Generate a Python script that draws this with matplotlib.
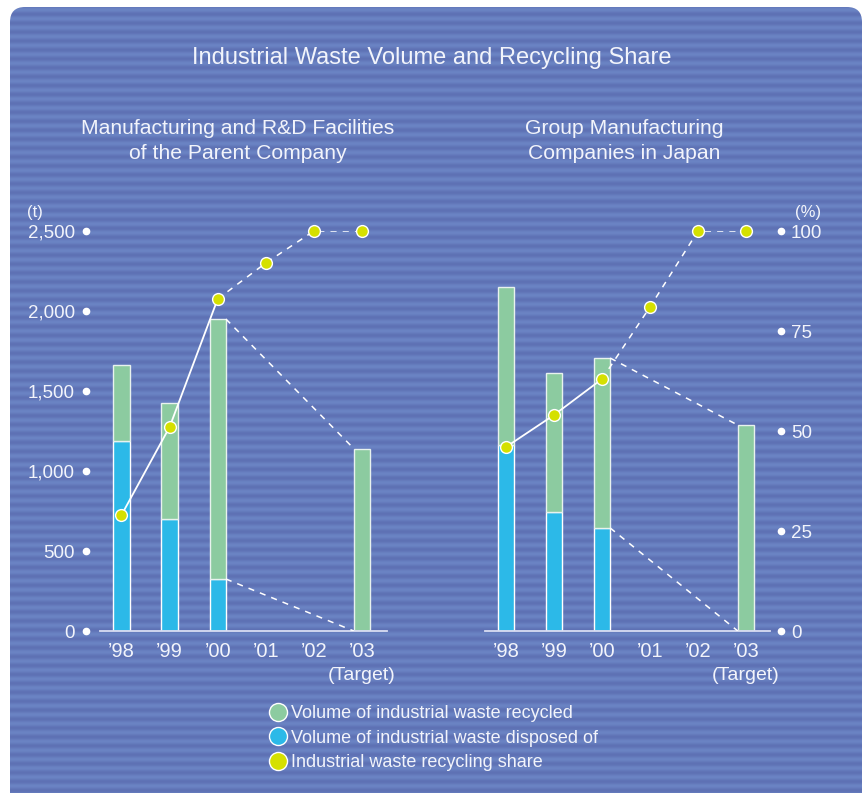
import matplotlib
matplotlib.use("Agg")
import matplotlib.pyplot as plt
import numpy as np
from matplotlib.patches import FancyBboxPatch
from matplotlib.lines import Line2D

plt.rcParams["font.family"] = ["Liberation Sans", "DejaVu Sans"]

years = ["\u201998", "\u201999", "\u201900", "\u201901", "\u201902", "\u201903"]

# parent company facilities (t, %)
parent_recycled = [475, 725, 1625, None, None, 1140]
parent_disposed = [1190, 700, 325, None, None, 0]
parent_share = [29, 51, 83, 92, 100, 100]

# group manufacturing companies in Japan (t, %)
group_recycled = [988, 868, 1062, None, None, 1287]
group_disposed = [1162, 744, 644, None, None, 0]
group_share = [46, 54, 63, 81, 100, 100]

vol_ticks = [0, 500, 1000, 1500, 2000, 2500]
pct_ticks = [0, 25, 50, 75, 100]

GREEN = "#8ccba0"
BLUE = "#2cb9e8"
YELLOW = "#d5e000"
TXT = "#f2f4fb"
W, H = 863, 793

fig = plt.figure(figsize=(W / 100, H / 100), dpi=100)

# striped rounded backdrop, drawn in pixel coordinates
bg = fig.add_axes([0, 0, 1, 1])
bg.set_xlim(0, W)
bg.set_ylim(H, 0)
bg.axis("off")
rows = np.arange(H + 20)
stripe = 0.5 + 0.5 * np.sin(rows * 2 * np.pi / 9.0)
light = np.array([107, 132, 196]) / 255
dark = np.array([94, 113, 180]) / 255
img = dark[None, :] + stripe[:, None] * (light - dark)[None, :]
img = np.repeat(img[:, None, :], 2, axis=1)
im = bg.imshow(img, extent=(10, W + 10, H + 20, 7), aspect="auto",
               interpolation="bilinear")
panel = FancyBboxPatch((10, 7), W - 11, H + 30, transform=bg.transData,
                       boxstyle="round,pad=0,rounding_size=15",
                       facecolor="none", edgecolor="none")
bg.add_patch(panel)
im.set_clip_path(panel)

bg.text(432, 58, "Industrial Waste Volume and Recycling Share", color=TXT,
        fontsize=17, ha="center", va="center")
bg.text(238, 141, "Manufacturing and R&D Facilities\nof the Parent Company",
        color=TXT, fontsize=15.2, ha="center", va="center", linespacing=1.38)
bg.text(624, 141, "Group Manufacturing\nCompanies in Japan",
        color=TXT, fontsize=15.2, ha="center", va="center", linespacing=1.38)
bg.text(35, 212, "(t)", color=TXT, fontsize=12, ha="center", va="center")
bg.text(808, 212, "(%)", color=TXT, fontsize=12, ha="center", va="center")


def draw_panel(rect, xlim, recycled, disposed, share, left_ticks, right_ticks):
    ax = fig.add_axes(rect)
    ax.patch.set_alpha(0)
    x = np.arange(len(years))
    idx = [i for i, v in enumerate(recycled) if v is not None]
    disp = np.array([disposed[i] for i in idx], dtype=float)
    rec = np.array([recycled[i] for i in idx], dtype=float)
    ax.bar(x[idx], disp, width=0.34, color=BLUE, edgecolor="white",
           linewidth=1.0, zorder=2)
    ax.bar(x[idx], rec, bottom=disp, width=0.34, color=GREEN,
           edgecolor="#e8f2ee", linewidth=1.0, zorder=2)

    # projected trend from '00 actuals to the '03 target
    hw = 0.17
    ax.plot([x[2] + hw, x[5] - hw],
            [disposed[2] + recycled[2], disposed[5] + recycled[5]],
            color="white", lw=1.1, ls=(0, (4, 4)), zorder=3)
    ax.plot([x[2] + hw, x[5] - hw], [disposed[2], disposed[5]],
            color="white", lw=1.1, ls=(0, (4, 4)), zorder=3)

    ax.set_xlim(*xlim)
    ax.set_ylim(0, 2500)
    for s in ["top", "right", "left"]:
        ax.spines[s].set_visible(False)
    ax.spines["bottom"].set_color("#d9ddf2")
    ax.spines["bottom"].set_linewidth(1.3)
    ax.set_xticks(x)
    ax.set_xticklabels(years)
    ax.tick_params(axis="x", length=0, pad=8, labelsize=14.5, colors=TXT)
    ax.text(x[5], -0.112, "(Target)", transform=ax.get_xaxis_transform(),
            color=TXT, fontsize=14, ha="center", va="center")

    ax2 = ax.twinx()
    ax2.set_ylim(0, 100)
    for s in ax2.spines.values():
        s.set_visible(False)
    ax2.plot(x[:3], share[:3], color="white", lw=1.3, zorder=4)
    ax2.plot(x[2:], share[2:], color="white", lw=1.1, ls=(0, (4, 4)), zorder=4)
    ax2.plot(x, share, ls="none", marker="o", ms=8.5, mfc=YELLOW, mec="white",
             mew=1.0, zorder=5, clip_on=False)

    if left_ticks:
        ax.set_yticks(vol_ticks)
        ax.set_yticklabels([f"{v:,}" for v in vol_ticks])
        ax.tick_params(axis="y", length=0, pad=18, labelsize=13.5, colors=TXT)
        ax.plot([-0.049] * len(vol_ticks), vol_ticks, ls="none", marker="o",
                ms=4.5, color="white", transform=ax.get_yaxis_transform(),
                clip_on=False)
    else:
        ax.set_yticks([])
    if right_ticks:
        ax2.set_yticks(pct_ticks)
        ax2.tick_params(axis="y", length=0, pad=15, labelsize=13.5, colors=TXT)
        ax2.plot([1.039] * len(pct_ticks), pct_ticks, ls="none", marker="o",
                 ms=4.5, color="white", transform=ax2.get_yaxis_transform(),
                 clip_on=False)
    else:
        ax2.set_yticks([])
    return ax


bottom = (H - 631) / H
height = 400 / H
draw_panel([100 / W, bottom, 287 / W, height], (-0.447, 5.52),
           parent_recycled, parent_disposed, parent_share, True, False)
draw_panel([485 / W, bottom, 285 / W, height], (-0.4375, 5.5),
           group_recycled, group_disposed, group_share, False, True)

handles = [
    Line2D([], [], ls="none", marker="o", ms=13, mfc=c, mec="white", mew=1.0)
    for c in (GREEN, BLUE, YELLOW)
]
labels = ["Volume of industrial waste recycled",
          "Volume of industrial waste disposed of",
          "Industrial waste recycling share"]
fig.legend(handles, labels, loc="upper left", bbox_to_anchor=(268, 705),
           bbox_transform=bg.transData, frameon=False, fontsize=13,
           labelcolor=TXT, handletextpad=0.15, labelspacing=0.42,
           handlelength=1.1, borderpad=0, borderaxespad=0)

fig.savefig("out.png", dpi=100)
